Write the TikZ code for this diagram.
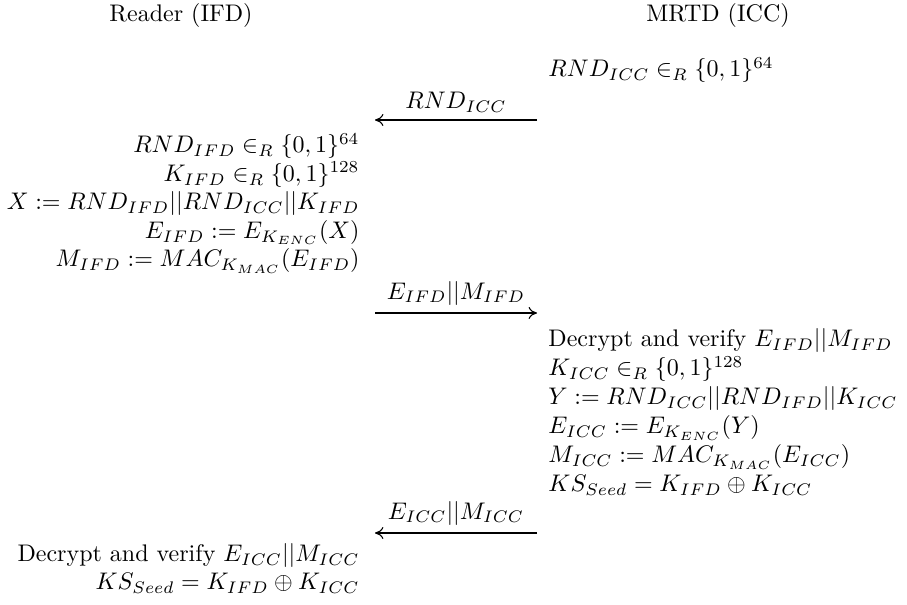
\documentclass[tikz,border=0pt]{standalone}
\usepackage{amsmath}
\usepackage{tikz}
\usetikzlibrary{arrows.meta, positioning}

\begin{document}
\begin{tikzpicture}[
  x=0.41667pt, y=-0.41667pt,
  lside/.style={anchor=base east, inner sep=0pt},
  rside/.style={anchor=base west, inner sep=0pt},
  hdr/.style={anchor=base, inner sep=0pt},
  msg/.style={-{To[length=3.5pt,width=5pt]}, line width=0.45pt},
  lbl/.style={above=3pt, inner sep=0pt}
]
\useasboundingbox (0,0) rectangle (907,605);

% parties
\node[hdr] (reader) at (181,22) {Reader (IFD)};
\node[hdr] (mrtd) at (718,22) {MRTD (ICC)};

% challenge
\node[rside] (icc1) at (548,77) {$RND_{ICC} \in_R \{0,1\}^{64}$};
\coordinate (m1r) at (537,120);
\coordinate (m1l) at (375,120);
\draw[msg] (m1r) -- (m1l) node[lbl, midway] (t1) {$RND_{ICC}$};

% reader computations
\foreach \k/\txt in {
  0/{$RND_{IFD} \in_R \{0,1\}^{64}$},
  1/{$K_{IFD} \in_R \{0,1\}^{128}$},
  2/{$X := RND_{IFD}||RND_{ICC}||K_{IFD}$},
  3/{$E_{IFD} := E_{K_{ENC}}(X)$},
  4/{$M_{IFD} := MAC_{K_{MAC}}(E_{IFD})$}} {
  \node[lside] (ifd\k) at (360,153+28.5*\k) {\txt};
}

% response of reader
\coordinate (m2l) at (375,313);
\coordinate (m2r) at (537,313);
\draw[msg] (m2l) -- (m2r) node[lbl, midway] (t2) {$E_{IFD}||M_{IFD}$};

% chip computations
\foreach \k/\txt in {
  0/{Decrypt and verify $E_{IFD}||M_{IFD}$},
  1/{$K_{ICC} \in_R \{0,1\}^{128}$},
  2/{$Y := RND_{ICC}||RND_{IFD}||K_{ICC}$},
  3/{$E_{ICC} := E_{K_{ENC}}(Y)$},
  4/{$M_{ICC} := MAC_{K_{MAC}}(E_{ICC})$},
  5/{$KS_{Seed} = K_{IFD} \oplus K_{ICC}$}} {
  \node[rside] (icc\k) at (548,347+29*\k) {\txt};
}

% response of chip
\coordinate (m3r) at (537,533);
\coordinate (m3l) at (375,533);
\draw[msg] (m3r) -- (m3l) node[lbl, midway] (t3) {$E_{ICC}||M_{ICC}$};

% reader check
\node[lside] (fin0) at (360,562) {Decrypt and verify $E_{ICC}||M_{ICC}$};
\node[lside] (fin1) at (360,590) {$KS_{Seed} = K_{IFD} \oplus K_{ICC}$};
\end{tikzpicture}
\end{document}
